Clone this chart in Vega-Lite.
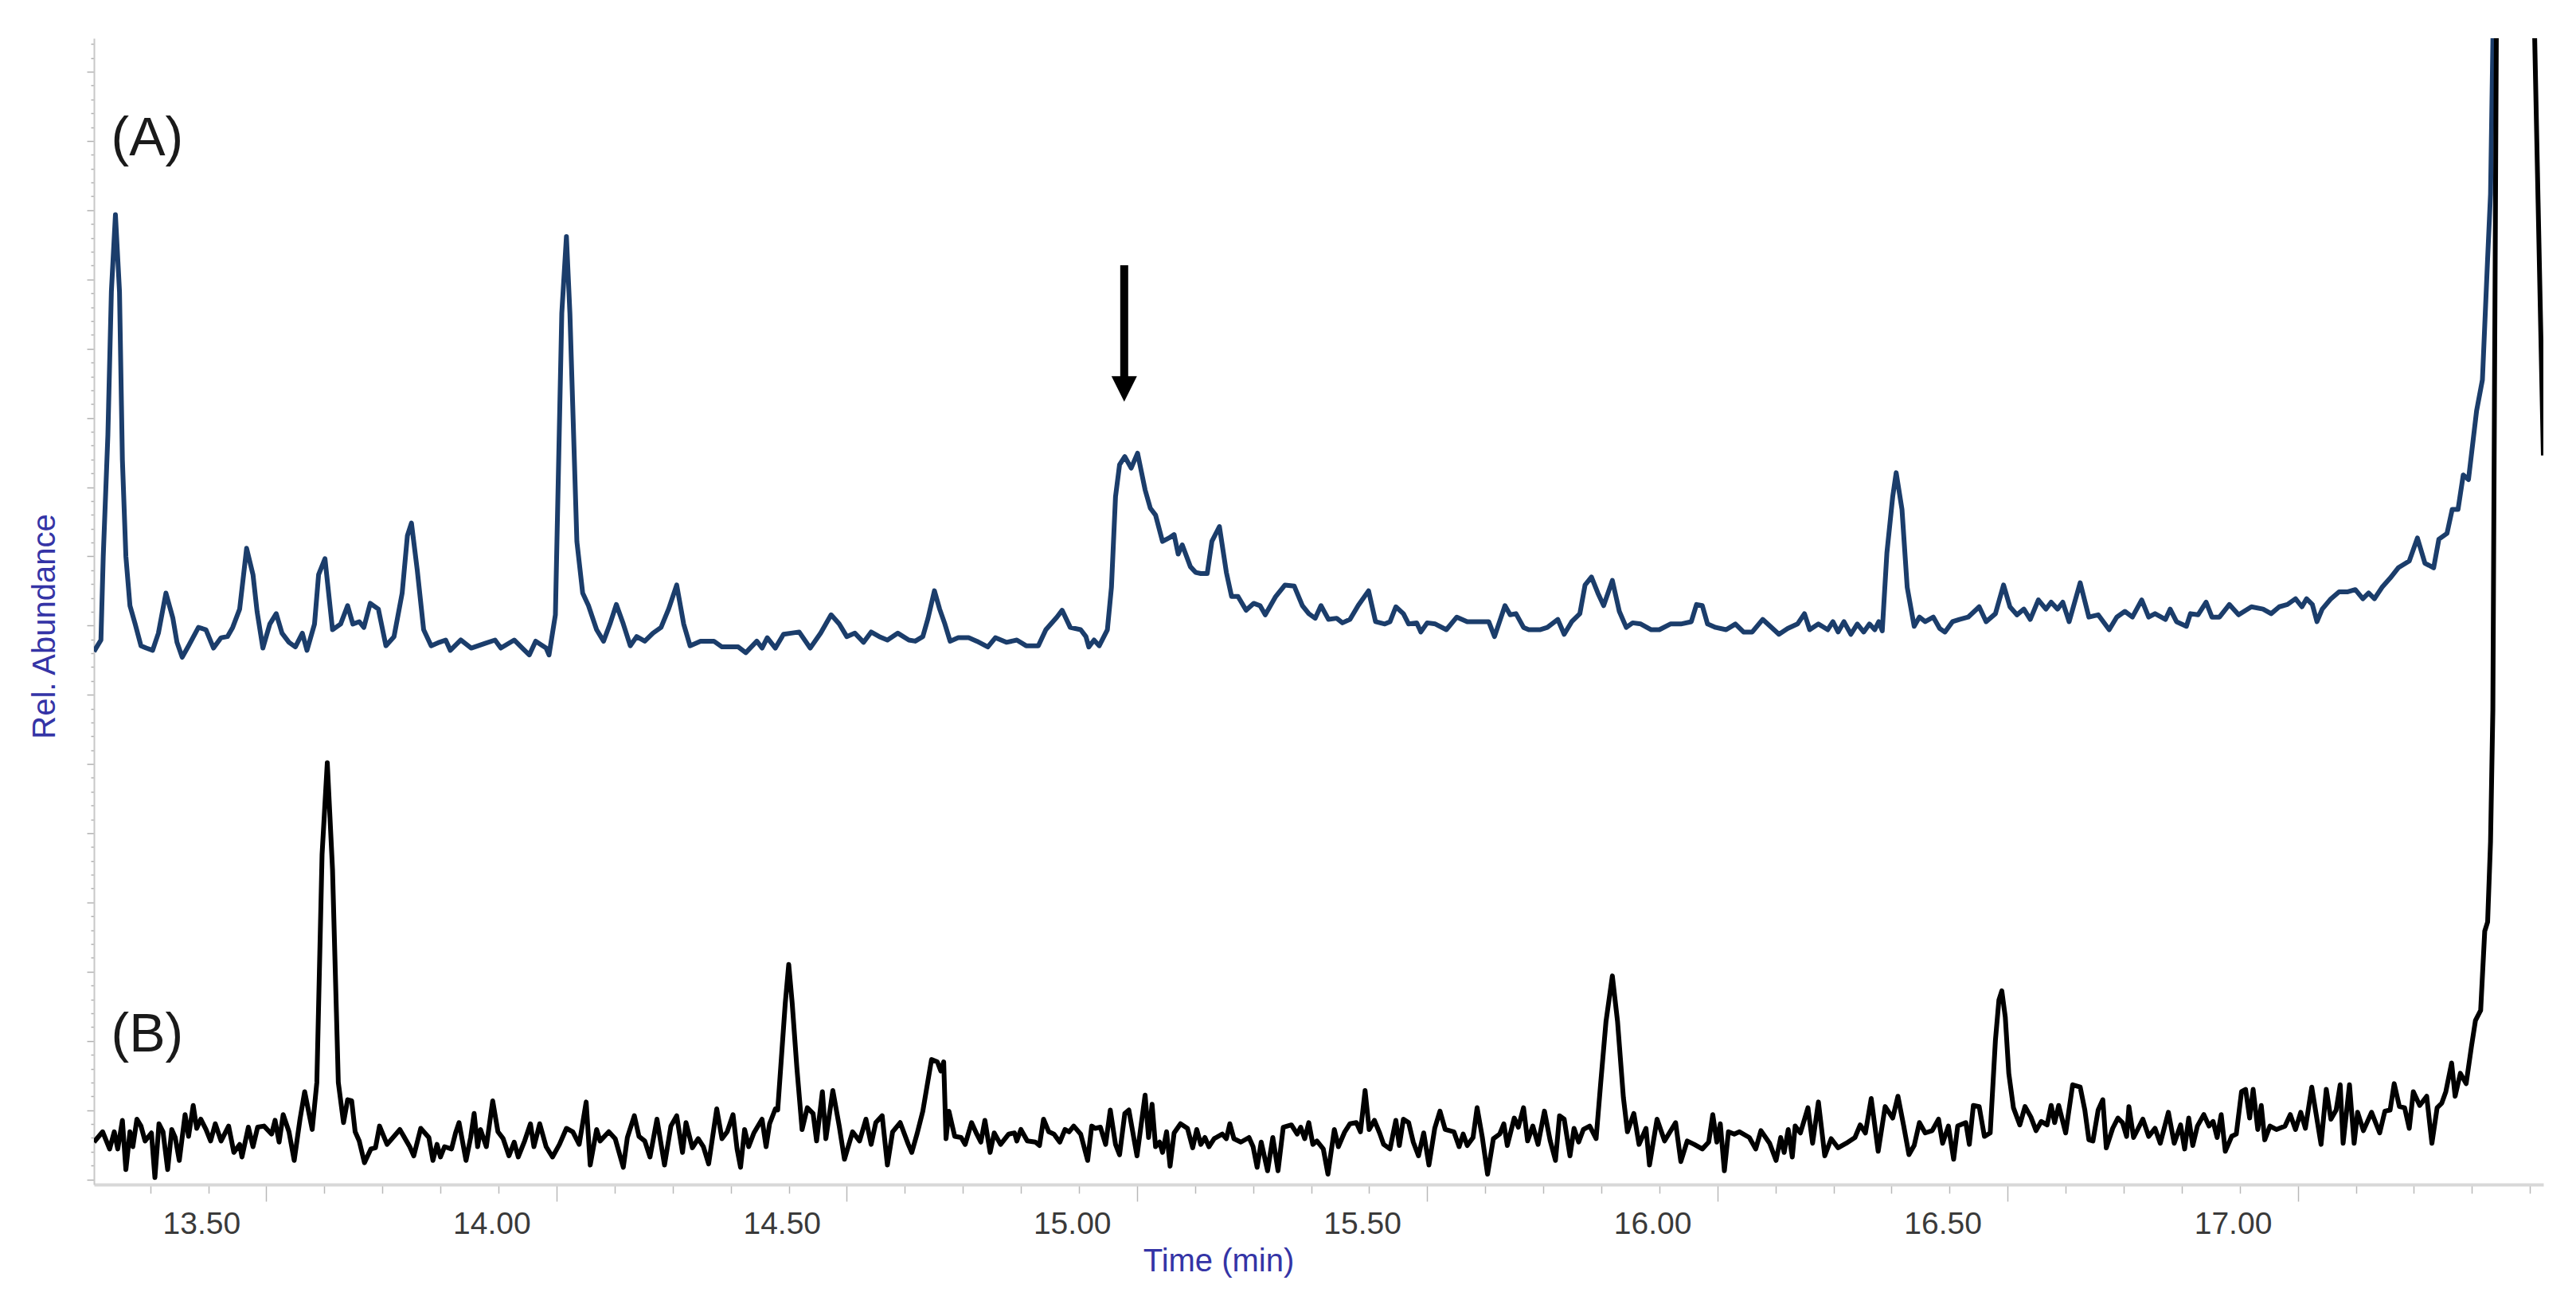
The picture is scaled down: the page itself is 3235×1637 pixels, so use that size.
{
  "$schema": "https://vega.github.io/schema/vega-lite/v6.json",
  "width": 3076,
  "height": 1439,
  "autosize": {"type": "none"},
  "padding": {"left": 118, "top": 48, "right": 41, "bottom": 150},
  "background": "white",
  "config": {"view": {"stroke": null}},
  "datasets": {
    "A": [
      {"t":13.315,"v":46.5},{"t":13.327,"v":47.5},{"t":13.331,"v":54.8},{"t":13.339,"v":65.4},{"t":13.345,"v":77.9},{"t":13.352,"v":84.6},{"t":13.359,"v":77.9},{"t":13.364,"v":63.2},{"t":13.370,"v":54.8},{"t":13.377,"v":50.5},{"t":13.386,"v":48.9},{"t":13.396,"v":47.0},{"t":13.405,"v":46.8},{"t":13.416,"v":46.6},{"t":13.426,"v":48.1},{"t":13.439,"v":51.6},{"t":13.451,"v":49.4},{"t":13.458,"v":47.3},{"t":13.467,"v":46.0},{"t":13.478,"v":47.0},{"t":13.495,"v":48.6},{"t":13.508,"v":48.4},{"t":13.521,"v":46.8},{"t":13.534,"v":47.7},{"t":13.545,"v":47.8},{"t":13.554,"v":48.6},{"t":13.566,"v":50.2},{"t":13.578,"v":55.5},{"t":13.589,"v":53.2},{"t":13.596,"v":50.0},{"t":13.606,"v":46.8},{"t":13.618,"v":48.9},{"t":13.629,"v":49.8},{"t":13.639,"v":48.1},{"t":13.651,"v":47.3},{"t":13.662,"v":46.9},{"t":13.674,"v":48.1},{"t":13.682,"v":46.6},{"t":13.695,"v":48.9},{"t":13.702,"v":53.2},{"t":13.713,"v":54.6},{"t":13.726,"v":48.4},{"t":13.740,"v":48.9},{"t":13.752,"v":50.5},{"t":13.761,"v":48.9},{"t":13.772,"v":49.1},{"t":13.780,"v":48.6},{"t":13.791,"v":50.7},{"t":13.805,"v":50.2},{"t":13.818,"v":47.0},{"t":13.832,"v":47.8},{"t":13.846,"v":51.6},{"t":13.855,"v":56.6},{"t":13.862,"v":57.7},{"t":13.872,"v":53.6},{"t":13.883,"v":48.4},{"t":13.896,"v":47.0},{"t":13.910,"v":47.3},{"t":13.921,"v":47.5},{"t":13.929,"v":46.6},{"t":13.947,"v":47.5},{"t":13.965,"v":46.8},{"t":13.988,"v":47.2},{"t":14.006,"v":47.5},{"t":14.016,"v":46.8},{"t":14.039,"v":47.5},{"t":14.053,"v":46.8},{"t":14.065,"v":46.2},{"t":14.076,"v":47.4},{"t":14.094,"v":46.8},{"t":14.099,"v":46.2},{"t":14.110,"v":49.7},{"t":14.121,"v":76.0},{"t":14.129,"v":82.7},{"t":14.135,"v":76.0},{"t":14.147,"v":56.1},{"t":14.157,"v":51.6},{"t":14.167,"v":50.5},{"t":14.181,"v":48.4},{"t":14.193,"v":47.4},{"t":14.204,"v":48.9},{"t":14.215,"v":50.6},{"t":14.227,"v":48.9},{"t":14.239,"v":47.0},{"t":14.250,"v":47.8},{"t":14.264,"v":47.4},{"t":14.278,"v":48.1},{"t":14.292,"v":48.6},{"t":14.305,"v":50.2},{"t":14.319,"v":52.3},{"t":14.331,"v":48.9},{"t":14.342,"v":47.0},{"t":14.360,"v":47.4},{"t":14.383,"v":47.4},{"t":14.397,"v":46.9},{"t":14.425,"v":46.9},{"t":14.438,"v":46.4},{"t":14.457,"v":47.4},{"t":14.466,"v":46.8},{"t":14.475,"v":47.7},{"t":14.489,"v":46.8},{"t":14.503,"v":48.0},{"t":14.516,"v":48.1},{"t":14.530,"v":48.2},{"t":14.549,"v":46.8},{"t":14.567,"v":48.1},{"t":14.585,"v":49.7},{"t":14.599,"v":48.9},{"t":14.612,"v":47.8},{"t":14.626,"v":48.1},{"t":14.641,"v":47.3},{"t":14.654,"v":48.2},{"t":14.668,"v":47.8},{"t":14.682,"v":47.5},{"t":14.700,"v":48.1},{"t":14.719,"v":47.5},{"t":14.730,"v":47.4},{"t":14.743,"v":47.8},{"t":14.752,"v":49.4},{"t":14.763,"v":51.8},{"t":14.772,"v":50.2},{"t":14.781,"v":48.9},{"t":14.790,"v":47.4},{"t":14.804,"v":47.7},{"t":14.822,"v":47.7},{"t":14.836,"v":47.4},{"t":14.855,"v":46.9},{"t":14.868,"v":47.7},{"t":14.887,"v":47.3},{"t":14.905,"v":47.5},{"t":14.921,"v":47.0},{"t":14.942,"v":47.0},{"t":14.955,"v":48.4},{"t":14.974,"v":49.5},{"t":14.983,"v":50.1},{"t":14.997,"v":48.6},{"t":15.015,"v":48.4},{"t":15.024,"v":47.8},{"t":15.029,"v":46.9},{"t":15.038,"v":47.5},{"t":15.047,"v":47.0},{"t":15.061,"v":48.4},{"t":15.068,"v":52.1},{"t":15.075,"v":60.0},{"t":15.082,"v":62.8},{"t":15.091,"v":63.5},{"t":15.102,"v":62.5},{"t":15.113,"v":63.8},{"t":15.126,"v":60.6},{"t":15.135,"v":59.0},{"t":15.144,"v":58.4},{"t":15.156,"v":56.1},{"t":15.167,"v":56.4},{"t":15.176,"v":56.7},{"t":15.183,"v":55.0},{"t":15.190,"v":55.8},{"t":15.204,"v":53.9},{"t":15.213,"v":53.4},{"t":15.222,"v":53.3},{"t":15.233,"v":53.3},{"t":15.241,"v":56.1},{"t":15.254,"v":57.4},{"t":15.266,"v":53.4},{"t":15.275,"v":51.3},{"t":15.286,"v":51.3},{"t":15.300,"v":50.1},{"t":15.313,"v":50.7},{"t":15.324,"v":50.5},{"t":15.333,"v":49.7},{"t":15.351,"v":51.3},{"t":15.367,"v":52.3},{"t":15.383,"v":52.2},{"t":15.397,"v":50.5},{"t":15.408,"v":49.8},{"t":15.419,"v":49.4},{"t":15.429,"v":50.5},{"t":15.442,"v":49.3},{"t":15.456,"v":49.4},{"t":15.466,"v":49.0},{"t":15.479,"v":49.3},{"t":15.493,"v":50.5},{"t":15.511,"v":51.8},{"t":15.523,"v":49.1},{"t":15.539,"v":48.9},{"t":15.548,"v":49.1},{"t":15.558,"v":50.4},{"t":15.571,"v":49.8},{"t":15.580,"v":48.9},{"t":15.594,"v":49.0},{"t":15.601,"v":48.2},{"t":15.612,"v":49.0},{"t":15.626,"v":48.9},{"t":15.645,"v":48.4},{"t":15.663,"v":49.5},{"t":15.681,"v":49.1},{"t":15.700,"v":49.1},{"t":15.718,"v":49.1},{"t":15.728,"v":47.8},{"t":15.746,"v":50.5},{"t":15.755,"v":49.7},{"t":15.765,"v":49.8},{"t":15.778,"v":48.6},{"t":15.787,"v":48.4},{"t":15.806,"v":48.4},{"t":15.819,"v":48.6},{"t":15.837,"v":49.3},{"t":15.848,"v":48.0},{"t":15.861,"v":49.1},{"t":15.875,"v":49.8},{"t":15.884,"v":52.3},{"t":15.895,"v":53.0},{"t":15.906,"v":51.6},{"t":15.916,"v":50.5},{"t":15.931,"v":52.7},{"t":15.943,"v":50.0},{"t":15.955,"v":48.6},{"t":15.966,"v":49.0},{"t":15.980,"v":48.9},{"t":15.998,"v":48.4},{"t":16.012,"v":48.4},{"t":16.031,"v":48.9},{"t":16.049,"v":48.9},{"t":16.067,"v":49.1},{"t":16.076,"v":50.6},{"t":16.086,"v":50.5},{"t":16.095,"v":48.9},{"t":16.109,"v":48.6},{"t":16.127,"v":48.4},{"t":16.143,"v":48.9},{"t":16.157,"v":48.2},{"t":16.172,"v":48.2},{"t":16.190,"v":49.3},{"t":16.218,"v":48.0},{"t":16.233,"v":48.5},{"t":16.250,"v":48.9},{"t":16.262,"v":49.8},{"t":16.271,"v":48.4},{"t":16.286,"v":48.9},{"t":16.302,"v":48.4},{"t":16.311,"v":49.1},{"t":16.320,"v":48.2},{"t":16.330,"v":49.1},{"t":16.342,"v":48.0},{"t":16.353,"v":48.9},{"t":16.364,"v":48.2},{"t":16.374,"v":48.9},{"t":16.383,"v":48.4},{"t":16.390,"v":49.1},{"t":16.396,"v":48.3},{"t":16.404,"v":55.1},{"t":16.414,"v":60.0},{"t":16.420,"v":62.1},{"t":16.430,"v":58.9},{"t":16.439,"v":52.1},{"t":16.451,"v":48.7},{"t":16.460,"v":49.5},{"t":16.470,"v":49.1},{"t":16.484,"v":49.5},{"t":16.495,"v":48.5},{"t":16.504,"v":48.2},{"t":16.517,"v":49.1},{"t":16.529,"v":49.3},{"t":16.544,"v":49.5},{"t":16.563,"v":50.4},{"t":16.575,"v":49.1},{"t":16.591,"v":49.8},{"t":16.605,"v":52.3},{"t":16.616,"v":50.4},{"t":16.628,"v":49.7},{"t":16.640,"v":50.2},{"t":16.651,"v":49.3},{"t":16.665,"v":51.0},{"t":16.678,"v":50.2},{"t":16.687,"v":50.8},{"t":16.698,"v":50.2},{"t":16.707,"v":50.8},{"t":16.718,"v":49.1},{"t":16.737,"v":52.5},{"t":16.752,"v":49.5},{"t":16.768,"v":49.7},{"t":16.787,"v":48.4},{"t":16.800,"v":49.5},{"t":16.814,"v":50.0},{"t":16.827,"v":49.5},{"t":16.843,"v":51.0},{"t":16.855,"v":49.5},{"t":16.866,"v":49.8},{"t":16.884,"v":49.3},{"t":16.892,"v":50.2},{"t":16.903,"v":49.1},{"t":16.920,"v":48.7},{"t":16.927,"v":49.8},{"t":16.940,"v":49.7},{"t":16.954,"v":50.8},{"t":16.964,"v":49.5},{"t":16.977,"v":49.5},{"t":16.994,"v":50.6},{"t":17.010,"v":49.7},{"t":17.032,"v":50.4},{"t":17.052,"v":50.2},{"t":17.066,"v":49.8},{"t":17.080,"v":50.4},{"t":17.094,"v":50.6},{"t":17.108,"v":51.1},{"t":17.119,"v":50.4},{"t":17.127,"v":51.1},{"t":17.137,"v":50.6},{"t":17.145,"v":49.1},{"t":17.154,"v":50.2},{"t":17.169,"v":51.1},{"t":17.183,"v":51.7},{"t":17.197,"v":51.7},{"t":17.211,"v":51.9},{"t":17.224,"v":51.1},{"t":17.234,"v":51.6},{"t":17.244,"v":51.1},{"t":17.257,"v":52.1},{"t":17.271,"v":52.9},{"t":17.285,"v":53.8},{"t":17.304,"v":54.4},{"t":17.318,"v":56.4},{"t":17.331,"v":54.2},{"t":17.346,"v":53.8},{"t":17.355,"v":56.3},{"t":17.369,"v":56.8},{"t":17.378,"v":58.9},{"t":17.388,"v":58.9},{"t":17.397,"v":61.9},{"t":17.406,"v":61.5},{"t":17.420,"v":67.5},{"t":17.430,"v":70.2},{"t":17.439,"v":80.8},{"t":17.444,"v":86.4},{"t":17.448,"v":99.6},{"t":17.452,"v":115}
    ],
    "B": [
      {"t":13.315,"v":3.7},{"t":13.330,"v":4.6},{"t":13.342,"v":3.1},{"t":13.350,"v":4.6},{"t":13.356,"v":3.1},{"t":13.364,"v":5.6},{"t":13.370,"v":1.3},{"t":13.377,"v":4.6},{"t":13.382,"v":3.3},{"t":13.389,"v":5.7},{"t":13.396,"v":5.1},{"t":13.403,"v":3.8},{"t":13.414,"v":4.5},{"t":13.420,"v":0.6},{"t":13.427,"v":5.3},{"t":13.434,"v":4.6},{"t":13.442,"v":1.3},{"t":13.449,"v":4.8},{"t":13.455,"v":4.1},{"t":13.462,"v":2.1},{"t":13.472,"v":6.1},{"t":13.478,"v":4.2},{"t":13.486,"v":6.9},{"t":13.492,"v":4.9},{"t":13.499,"v":5.7},{"t":13.508,"v":4.8},{"t":13.516,"v":3.8},{"t":13.524,"v":5.3},{"t":13.534,"v":3.8},{"t":13.547,"v":5.1},{"t":13.556,"v":2.8},{"t":13.566,"v":3.5},{"t":13.570,"v":2.4},{"t":13.581,"v":5.0},{"t":13.589,"v":3.3},{"t":13.597,"v":5.0},{"t":13.608,"v":5.1},{"t":13.621,"v":4.4},{"t":13.627,"v":5.6},{"t":13.634,"v":3.7},{"t":13.641,"v":6.1},{"t":13.651,"v":4.6},{"t":13.660,"v":2.1},{"t":13.670,"v":5.7},{"t":13.678,"v":8.1},{"t":13.691,"v":4.8},{"t":13.699,"v":8.9},{"t":13.708,"v":28.8},{"t":13.717,"v":36.8},{"t":13.726,"v":27.5},{"t":13.736,"v":8.9},{"t":13.745,"v":5.4},{"t":13.752,"v":7.4},{"t":13.759,"v":7.3},{"t":13.765,"v":4.6},{"t":13.772,"v":3.8},{"t":13.781,"v":1.9},{"t":13.792,"v":3.1},{"t":13.800,"v":3.2},{"t":13.807,"v":5.1},{"t":13.820,"v":3.5},{"t":13.842,"v":4.8},{"t":13.859,"v":3.3},{"t":13.866,"v":2.5},{"t":13.878,"v":4.9},{"t":13.892,"v":4.1},{"t":13.899,"v":2.1},{"t":13.906,"v":3.5},{"t":13.912,"v":2.4},{"t":13.919,"v":3.3},{"t":13.931,"v":3.1},{"t":13.938,"v":4.5},{"t":13.944,"v":5.4},{"t":13.956,"v":2.1},{"t":13.964,"v":4.1},{"t":13.970,"v":6.2},{"t":13.976,"v":3.3},{"t":13.981,"v":4.8},{"t":13.991,"v":3.3},{"t":14.002,"v":7.3},{"t":14.011,"v":4.6},{"t":14.020,"v":4.0},{"t":14.030,"v":2.5},{"t":14.039,"v":3.7},{"t":14.046,"v":2.4},{"t":14.057,"v":3.8},{"t":14.067,"v":5.3},{"t":14.073,"v":3.3},{"t":14.083,"v":5.3},{"t":14.094,"v":3.3},{"t":14.105,"v":2.4},{"t":14.117,"v":3.5},{"t":14.129,"v":4.9},{"t":14.140,"v":4.6},{"t":14.151,"v":3.5},{"t":14.163,"v":7.2},{"t":14.170,"v":1.7},{"t":14.181,"v":4.8},{"t":14.187,"v":3.8},{"t":14.202,"v":4.6},{"t":14.213,"v":4.0},{"t":14.227,"v":1.5},{"t":14.234,"v":4.1},{"t":14.246,"v":6.0},{"t":14.254,"v":4.2},{"t":14.264,"v":3.8},{"t":14.273,"v":2.4},{"t":14.285,"v":5.7},{"t":14.298,"v":1.7},{"t":14.309,"v":5.1},{"t":14.319,"v":6.0},{"t":14.329,"v":2.8},{"t":14.335,"v":5.4},{"t":14.346,"v":3.2},{"t":14.356,"v":4.0},{"t":14.365,"v":3.3},{"t":14.374,"v":1.8},{"t":14.388,"v":6.6},{"t":14.397,"v":4.0},{"t":14.406,"v":4.6},{"t":14.416,"v":6.1},{"t":14.423,"v":3.1},{"t":14.429,"v":1.5},{"t":14.436,"v":4.8},{"t":14.443,"v":3.3},{"t":14.452,"v":4.5},{"t":14.466,"v":5.7},{"t":14.473,"v":3.3},{"t":14.479,"v":5.3},{"t":14.489,"v":6.6},{"t":14.493,"v":6.5},{"t":14.500,"v":11.5},{"t":14.506,"v":15.8},{"t":14.512,"v":19.2},{"t":14.518,"v":15.8},{"t":14.526,"v":10.2},{"t":14.535,"v":4.8},{"t":14.544,"v":6.7},{"t":14.554,"v":6.2},{"t":14.560,"v":3.8},{"t":14.570,"v":8.1},{"t":14.576,"v":4.0},{"t":14.588,"v":8.2},{"t":14.599,"v":5.1},{"t":14.608,"v":2.2},{"t":14.622,"v":4.6},{"t":14.634,"v":3.8},{"t":14.645,"v":5.7},{"t":14.654,"v":3.5},{"t":14.662,"v":5.4},{"t":14.673,"v":6.0},{"t":14.682,"v":1.7},{"t":14.691,"v":4.6},{"t":14.704,"v":5.4},{"t":14.718,"v":3.5},{"t":14.724,"v":2.8},{"t":14.733,"v":4.4},{"t":14.743,"v":6.4},{"t":14.758,"v":10.9},{"t":14.768,"v":10.7},{"t":14.774,"v":9.9},{"t":14.779,"v":10.7},{"t":14.783,"v":4.0},{"t":14.788,"v":6.4},{"t":14.798,"v":4.2},{"t":14.809,"v":4.1},{"t":14.816,"v":3.5},{"t":14.827,"v":5.4},{"t":14.836,"v":4.4},{"t":14.843,"v":3.7},{"t":14.850,"v":5.6},{"t":14.859,"v":2.8},{"t":14.866,"v":4.5},{"t":14.877,"v":3.5},{"t":14.891,"v":4.4},{"t":14.901,"v":4.5},{"t":14.905,"v":3.8},{"t":14.912,"v":4.8},{"t":14.923,"v":3.8},{"t":14.937,"v":3.7},{"t":14.944,"v":3.4},{"t":14.951,"v":5.7},{"t":14.960,"v":4.6},{"t":14.969,"v":4.4},{"t":14.979,"v":3.7},{"t":14.988,"v":4.8},{"t":14.995,"v":4.6},{"t":15.003,"v":5.1},{"t":15.015,"v":4.4},{"t":15.027,"v":2.1},{"t":15.034,"v":5.1},{"t":15.040,"v":4.9},{"t":15.049,"v":5.0},{"t":15.058,"v":3.5},{"t":15.066,"v":6.5},{"t":15.075,"v":3.5},{"t":15.082,"v":2.6},{"t":15.091,"v":6.2},{"t":15.098,"v":6.5},{"t":15.112,"v":2.5},{"t":15.126,"v":7.8},{"t":15.132,"v":4.1},{"t":15.138,"v":7.0},{"t":15.144,"v":3.3},{"t":15.151,"v":3.7},{"t":15.156,"v":2.8},{"t":15.163,"v":4.6},{"t":15.169,"v":1.6},{"t":15.176,"v":4.5},{"t":15.187,"v":5.3},{"t":15.199,"v":4.9},{"t":15.208,"v":3.2},{"t":15.215,"v":4.8},{"t":15.222,"v":3.5},{"t":15.229,"v":4.1},{"t":15.236,"v":3.3},{"t":15.245,"v":4.0},{"t":15.259,"v":4.4},{"t":15.266,"v":4.0},{"t":15.272,"v":5.3},{"t":15.279,"v":4.0},{"t":15.291,"v":3.7},{"t":15.305,"v":4.1},{"t":15.312,"v":3.3},{"t":15.319,"v":1.5},{"t":15.326,"v":3.7},{"t":15.337,"v":1.2},{"t":15.346,"v":4.1},{"t":15.355,"v":1.2},{"t":15.364,"v":5.0},{"t":15.378,"v":5.2},{"t":15.388,"v":4.4},{"t":15.394,"v":5.0},{"t":15.401,"v":4.0},{"t":15.408,"v":5.4},{"t":15.415,"v":3.5},{"t":15.422,"v":3.8},{"t":15.433,"v":3.1},{"t":15.441,"v":0.9},{"t":15.452,"v":4.8},{"t":15.459,"v":3.3},{"t":15.470,"v":4.6},{"t":15.479,"v":5.3},{"t":15.490,"v":5.4},{"t":15.497,"v":4.6},{"t":15.505,"v":8.2},{"t":15.512,"v":4.8},{"t":15.521,"v":5.6},{"t":15.530,"v":4.5},{"t":15.537,"v":3.5},{"t":15.548,"v":3.1},{"t":15.558,"v":5.6},{"t":15.564,"v":3.4},{"t":15.571,"v":5.7},{"t":15.580,"v":5.4},{"t":15.588,"v":3.7},{"t":15.597,"v":2.5},{"t":15.606,"v":4.5},{"t":15.615,"v":1.7},{"t":15.625,"v":4.9},{"t":15.634,"v":6.4},{"t":15.643,"v":4.8},{"t":15.658,"v":4.6},{"t":15.667,"v":3.3},{"t":15.674,"v":4.4},{"t":15.681,"v":3.4},{"t":15.691,"v":4.1},{"t":15.698,"v":6.7},{"t":15.707,"v":4.1},{"t":15.716,"v":0.9},{"t":15.726,"v":4.0},{"t":15.737,"v":4.4},{"t":15.744,"v":5.3},{"t":15.750,"v":3.4},{"t":15.762,"v":5.8},{"t":15.769,"v":5.0},{"t":15.778,"v":6.7},{"t":15.785,"v":3.8},{"t":15.794,"v":5.1},{"t":15.803,"v":3.5},{"t":15.814,"v":6.4},{"t":15.824,"v":3.8},{"t":15.833,"v":2.1},{"t":15.840,"v":6.0},{"t":15.848,"v":5.7},{"t":15.858,"v":2.5},{"t":15.865,"v":4.9},{"t":15.873,"v":3.7},{"t":15.881,"v":4.8},{"t":15.892,"v":5.1},{"t":15.903,"v":4.0},{"t":15.911,"v":8.9},{"t":15.920,"v":14.2},{"t":15.931,"v":18.2},{"t":15.940,"v":14.2},{"t":15.950,"v":7.6},{"t":15.957,"v":4.6},{"t":15.968,"v":6.2},{"t":15.977,"v":3.5},{"t":15.989,"v":4.9},{"t":15.995,"v":1.7},{"t":16.008,"v":5.7},{"t":16.021,"v":3.8},{"t":16.040,"v":5.4},{"t":16.049,"v":2.0},{"t":16.060,"v":3.8},{"t":16.072,"v":3.5},{"t":16.086,"v":3.1},{"t":16.097,"v":3.7},{"t":16.104,"v":6.1},{"t":16.111,"v":3.7},{"t":16.117,"v":5.3},{"t":16.124,"v":1.2},{"t":16.131,"v":4.6},{"t":16.141,"v":4.4},{"t":16.150,"v":4.6},{"t":16.167,"v":4.1},{"t":16.178,"v":3.1},{"t":16.187,"v":4.7},{"t":16.202,"v":3.6},{"t":16.213,"v":2.1},{"t":16.221,"v":4.1},{"t":16.227,"v":2.8},{"t":16.234,"v":4.8},{"t":16.241,"v":2.4},{"t":16.246,"v":5.1},{"t":16.255,"v":4.5},{"t":16.268,"v":6.7},{"t":16.276,"v":3.6},{"t":16.286,"v":7.2},{"t":16.297,"v":2.5},{"t":16.308,"v":4.0},{"t":16.320,"v":3.2},{"t":16.334,"v":3.6},{"t":16.349,"v":4.1},{"t":16.358,"v":5.2},{"t":16.367,"v":4.5},{"t":16.377,"v":7.5},{"t":16.389,"v":2.9},{"t":16.401,"v":6.8},{"t":16.414,"v":5.8},{"t":16.423,"v":7.7},{"t":16.433,"v":5.1},{"t":16.442,"v":2.6},{"t":16.451,"v":3.4},{"t":16.460,"v":5.4},{"t":16.470,"v":4.5},{"t":16.482,"v":4.7},{"t":16.493,"v":5.7},{"t":16.500,"v":3.6},{"t":16.510,"v":5.1},{"t":16.519,"v":2.2},{"t":16.526,"v":5.1},{"t":16.540,"v":5.4},{"t":16.546,"v":3.5},{"t":16.553,"v":6.9},{"t":16.563,"v":6.8},{"t":16.572,"v":4.2},{"t":16.582,"v":4.5},{"t":16.591,"v":12.6},{"t":16.597,"v":16.1},{"t":16.602,"v":16.9},{"t":16.608,"v":14.6},{"t":16.614,"v":9.7},{"t":16.622,"v":6.7},{"t":16.633,"v":5.2},{"t":16.642,"v":6.8},{"t":16.652,"v":5.9},{"t":16.661,"v":4.7},{"t":16.670,"v":5.5},{"t":16.680,"v":5.2},{"t":16.687,"v":6.9},{"t":16.693,"v":5.4},{"t":16.700,"v":6.9},{"t":16.712,"v":4.5},{"t":16.724,"v":8.7},{"t":16.737,"v":8.5},{"t":16.745,"v":6.5},{"t":16.752,"v":3.9},{"t":16.759,"v":3.8},{"t":16.768,"v":6.5},{"t":16.776,"v":7.4},{"t":16.782,"v":3.2},{"t":16.793,"v":4.9},{"t":16.802,"v":5.8},{"t":16.810,"v":5.4},{"t":16.817,"v":4.2},{"t":16.821,"v":6.8},{"t":16.829,"v":4.1},{"t":16.837,"v":4.9},{"t":16.845,"v":5.7},{"t":16.855,"v":4.2},{"t":16.866,"v":4.9},{"t":16.875,"v":3.6},{"t":16.889,"v":6.3},{"t":16.899,"v":3.6},{"t":16.910,"v":5.2},{"t":16.917,"v":3.1},{"t":16.924,"v":5.8},{"t":16.931,"v":3.4},{"t":16.939,"v":5.1},{"t":16.950,"v":6.1},{"t":16.959,"v":5.1},{"t":16.966,"v":5.5},{"t":16.973,"v":4.1},{"t":16.980,"v":6.1},{"t":16.987,"v":2.9},{"t":16.998,"v":4.2},{"t":17.006,"v":4.4},{"t":17.015,"v":8.1},{"t":17.022,"v":8.3},{"t":17.029,"v":5.8},{"t":17.035,"v":8.3},{"t":17.043,"v":4.8},{"t":17.049,"v":6.9},{"t":17.055,"v":3.9},{"t":17.064,"v":5.1},{"t":17.075,"v":4.8},{"t":17.090,"v":5.1},{"t":17.099,"v":6.1},{"t":17.108,"v":4.8},{"t":17.117,"v":6.3},{"t":17.125,"v":4.9},{"t":17.136,"v":8.5},{"t":17.143,"v":6.3},{"t":17.152,"v":3.5},{"t":17.161,"v":8.3},{"t":17.169,"v":5.7},{"t":17.178,"v":6.5},{"t":17.185,"v":8.7},{"t":17.190,"v":3.6},{"t":17.201,"v":8.7},{"t":17.209,"v":3.6},{"t":17.215,"v":6.3},{"t":17.225,"v":4.7},{"t":17.239,"v":6.3},{"t":17.253,"v":4.5},{"t":17.262,"v":6.4},{"t":17.271,"v":6.5},{"t":17.278,"v":8.8},{"t":17.287,"v":6.8},{"t":17.296,"v":6.7},{"t":17.304,"v":4.9},{"t":17.311,"v":8.1},{"t":17.322,"v":6.9},{"t":17.334,"v":7.7},{"t":17.343,"v":3.6},{"t":17.352,"v":6.7},{"t":17.360,"v":7.1},{"t":17.367,"v":8.1},{"t":17.377,"v":10.6},{"t":17.383,"v":7.7},{"t":17.392,"v":9.7},{"t":17.402,"v":8.8},{"t":17.411,"v":12.0},{"t":17.418,"v":14.3},{"t":17.427,"v":15.2},{"t":17.434,"v":22.1},{"t":17.439,"v":22.9},{"t":17.444,"v":29.9},{"t":17.448,"v":41.4},{"t":17.460,"v":158.9},{"t":17.504,"v":139.2},{"t":17.535,"v":63.6}
    ],
    "arrow": [{"t": 15.09, "top": 80.2, "bottom": 70.2, "head": 69.4}],
    "labels": [{"t": 13.4067, "v": 89.8, "label": "(A)"}, {"t": 13.4067, "v": 11.6, "label": "(B)"}]
  },
  "encoding": {
    "x": {
      "field": "t",
      "type": "quantitative",
      "scale": {"domain": [13.315, 17.535], "nice": false, "zero": false},
      "axis": {
        "title": "Time (min)",
        "grid": false,
        "values": [13.412, 13.5, 13.512, 13.612, 13.712, 13.812, 13.912, 14.0, 14.012, 14.112, 14.212, 14.312, 14.412, 14.5, 14.512, 14.612, 14.712, 14.812, 14.912, 15.0, 15.012, 15.112, 15.212, 15.312, 15.412, 15.5, 15.512, 15.612, 15.712, 15.812, 15.912, 16.0, 16.012, 16.112, 16.212, 16.312, 16.412, 16.5, 16.512, 16.612, 16.712, 16.812, 16.912, 17.0, 17.012, 17.112, 17.212, 17.312, 17.412, 17.512],
        "labelExpr": "abs(datum.value*2 - round(datum.value*2)) < 0.001 ? format(datum.value, '.2f') : ''",
        "tickSize": {"condition": {"test": "indexof([13.612, 14.112, 14.612, 15.112, 15.612, 16.112, 16.612, 17.112], datum.value) >= 0", "value": 21}, "value": 11},
        "tickOpacity": {"condition": {"test": "abs(datum.value*2 - round(datum.value*2)) < 0.001", "value": 0}, "value": 1},
        "tickColor": "#b8b8b8",
        "tickWidth": 1.5,
        "domainColor": "#d8d8d8",
        "domainWidth": 4,
        "labelFont": "Liberation Sans",
        "labelFontSize": 39,
        "labelColor": "#3a3a3a",
        "labelPadding": 19,
        "labelOverlap": false,
        "labelFlush": false,
        "labelBound": false,
        "titleFont": "Liberation Sans",
        "titleFontSize": 40,
        "titleFontWeight": "normal",
        "titleColor": "#3434a6",
        "titleX": 1412,
        "titleY": 108,
        "titleAlign": "center",
        "titleBaseline": "alphabetic"
      }
    },
    "y": {
      "field": "v",
      "type": "quantitative",
      "scale": {"domain": [0, 100], "nice": false, "zero": false},
      "axis": {
        "title": "Rel. Abundance",
        "grid": false,
        "labels": false,
        "values": [0.45, 1.66, 2.87, 4.08, 5.28, 6.49, 7.7, 8.91, 10.11, 11.32, 12.53, 13.73, 14.95, 16.15, 17.36, 18.57, 19.78, 20.98, 22.19, 23.4, 24.61, 25.82, 27.02, 28.23, 29.44, 30.65, 31.86, 33.06, 34.27, 35.48, 36.69, 37.89, 39.1, 40.31, 41.52, 42.72, 43.93, 45.14, 46.35, 47.56, 48.76, 49.97, 51.18, 52.39, 53.6, 54.8, 56.01, 57.22, 58.43, 59.63, 60.84, 62.05, 63.26, 64.47, 65.67, 66.88, 68.09, 69.3, 70.5, 71.71, 72.92, 74.13, 75.34, 76.54, 77.75, 78.96, 80.17, 81.37, 82.58, 83.79, 85, 86.21, 87.41, 88.62, 89.83, 91.04, 92.24, 93.45, 94.66, 95.87, 97.08, 98.28, 99.49],
        "tickSize": {"condition": {"test": "indexof([0.45, 6.49, 12.53, 18.57, 24.61, 30.65, 36.69, 42.72, 48.76, 54.8, 60.84, 66.88, 72.92, 78.96, 85, 91.04, 97.08], datum.value) >= 0", "value": 9}, "value": 4},
        "tickColor": "#b0b0b0",
        "tickWidth": 1.5,
        "domainColor": "#c8c8c8",
        "domainWidth": 2,
        "titleFont": "Liberation Sans",
        "titleFontSize": 40,
        "titleFontWeight": "normal",
        "titleColor": "#3434a6",
        "titleAngle": 270,
        "titleX": -50,
        "titleY": 738,
        "titleAlign": "center",
        "titleBaseline": "alphabetic"
      }
    }
  },
  "layer": [
    {
      "data": {"name": "A"},
      "mark": {"type": "line", "color": "#1b3d6b", "strokeWidth": 6, "strokeJoin": "round", "clip": true}
    },
    {
      "data": {"name": "B"},
      "mark": {"type": "line", "color": "#000000", "strokeWidth": 6, "strokeJoin": "round", "clip": true}
    },
    {
      "data": {"name": "arrow"},
      "mark": {"type": "rule", "color": "#000000", "strokeWidth": 10},
      "encoding": {"y": {"field": "top", "type": "quantitative"}, "y2": {"field": "bottom"}}
    },
    {
      "data": {"name": "arrow"},
      "mark": {"type": "point", "shape": "M-1,-1L1,-1L0,1Z", "filled": true, "color": "#000000", "opacity": 1, "size": 1024, "strokeWidth": 0},
      "encoding": {"y": {"field": "head", "type": "quantitative"}}
    },
    {
      "data": {"name": "labels"},
      "mark": {"type": "text", "font": "Liberation Sans", "fontSize": 68, "color": "#1a1a1a", "align": "center", "baseline": "alphabetic"},
      "encoding": {"text": {"field": "label"}}
    }
  ]
}
